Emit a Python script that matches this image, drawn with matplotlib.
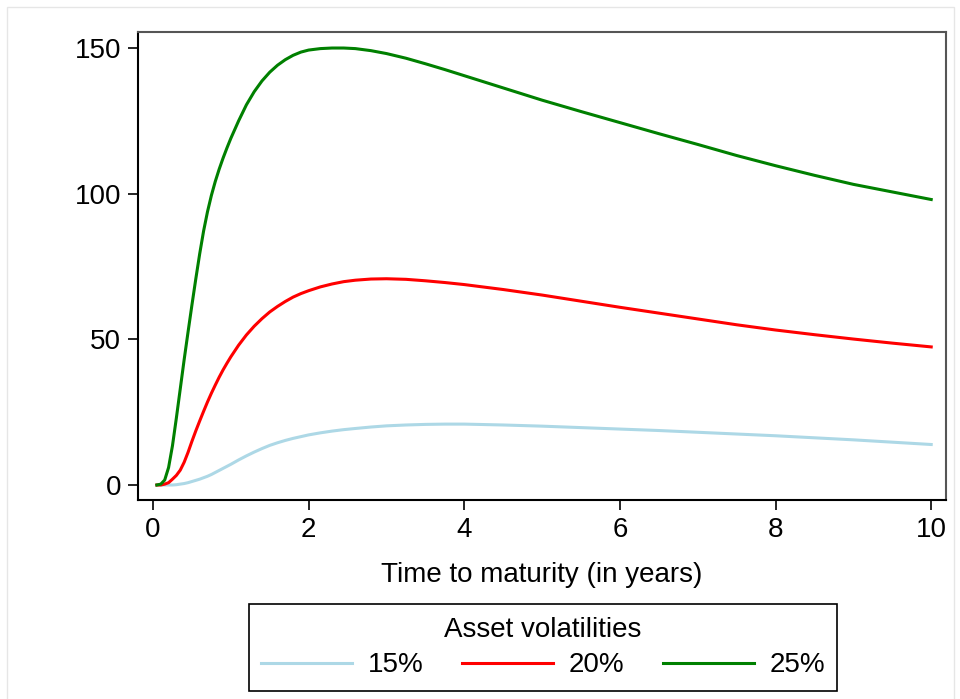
import matplotlib
matplotlib.use('Agg')
import matplotlib.pyplot as plt
from matplotlib.patches import Rectangle

plt.rcParams['font.family'] = ['Liberation Sans', 'DejaVu Sans']

# Time to maturity (years)
t = [0.05, 0.1, 0.15, 0.2, 0.25, 0.3, 0.35, 0.4, 0.45, 0.5, 0.55, 0.6, 0.65,
     0.7, 0.75, 0.8, 0.85, 0.9, 0.95, 1.0, 1.1, 1.2, 1.3, 1.4, 1.5, 1.6, 1.7,
     1.8, 1.9, 2.0, 2.15, 2.3, 2.45, 2.6, 2.8, 3.0, 3.25, 3.5, 3.75, 4.0,
     4.5, 5.0, 5.5, 6.0, 6.5, 7.0, 7.5, 8.0, 8.5, 9.0, 9.5, 10.0]

# values for each asset volatility
vol15 = [0, 0, 0, 0, 0, 0.1, 0.3, 0.5, 0.8, 1.2, 1.6, 2.0, 2.5,
         3.0, 3.6, 4.3, 5.0, 5.7, 6.4, 7.1, 8.6, 10.0, 11.3, 12.5, 13.6, 14.5, 15.3,
         16.0, 16.6, 17.2, 17.9, 18.5, 19.0, 19.4, 19.9, 20.3, 20.6, 20.8, 20.9, 20.9,
         20.6, 20.2, 19.7, 19.2, 18.7, 18.1, 17.5, 16.9, 16.2, 15.5, 14.7, 13.9]
vol20 = [0, 0, 0.3, 0.8, 2.0, 3.3, 5.1, 7.8, 11.2, 15.0, 18.6, 22.0, 25.3,
         28.5, 31.5, 34.3, 37.0, 39.5, 41.8, 44.0, 48.0, 51.5, 54.5, 57.1, 59.4, 61.3, 63.0,
         64.5, 65.7, 66.7, 68.0, 69.0, 69.8, 70.3, 70.7, 70.8, 70.6, 70.1, 69.5, 68.8,
         67.1, 65.2, 63.1, 61.0, 59.0, 57.0, 55.0, 53.2, 51.6, 50.1, 48.7, 47.4]
vol25 = [0, 0.3, 1.7, 6.0, 13.5, 23.0, 33.0, 43.0, 52.5, 61.8, 70.8, 79.4, 87.2,
         93.8, 99.4, 104.2, 108.4, 112.2, 115.7, 119.0, 125.0, 130.5, 135.0, 138.7, 141.7, 144.1, 146.0,
         147.5, 148.6, 149.3, 149.8, 150.0, 150.0, 149.8, 149.1, 148.1, 146.5, 144.6, 142.6, 140.5,
         136.3, 132.1, 128.2, 124.4, 120.6, 116.9, 113.1, 109.6, 106.3, 103.2, 100.6, 98.0]

labels = ['15%', '20%', '25%']
colors = ['#add8e6', '#ff0000', '#008000']

fig = plt.figure(figsize=(9.6, 6.99), dpi=100)
ax = fig.add_axes([138 / 960, 1 - 500 / 699, 808 / 960, 468 / 699])

for vals, lab, col in zip([vol15, vol20, vol25], labels, colors):
    ax.plot(t, vals, color=col, lw=2.2, label=lab)

ax.set_xlim(-0.193, 10.19)
ax.set_ylim(-5.15, 155.5)
ax.set_xticks([0, 2, 4, 6, 8, 10])
ax.set_yticks([0, 50, 100, 150])
ax.tick_params(labelsize=20, length=7.2, width=1.2, pad=5)
ax.set_xlabel('Time to maturity (in years)', fontsize=20, labelpad=14)

for s in ['left', 'bottom']:
    ax.spines[s].set_color('black')
    ax.spines[s].set_linewidth(1.5)
for s in ['top', 'right']:
    ax.spines[s].set_color('#555555')
    ax.spines[s].set_linewidth(1.5)

leg = fig.legend(loc='center', bbox_to_anchor=(543 / 960, 1 - 647.5 / 699),
                 ncol=3, fontsize=20, title='Asset volatilities',
                 title_fontsize=20, handlelength=3.28, handletextpad=0.55,
                 columnspacing=1.4, borderpad=0.45, labelspacing=0.35,
                 fancybox=False, edgecolor='black', framealpha=1)
leg.get_frame().set_linewidth(1.2)

# light outer frame
fig.patches.append(Rectangle((7.4 / 960, -0.1), 947 / 960, 1.1 - 7.3 / 699,
                             transform=fig.transFigure, fill=False,
                             edgecolor='#e6e6e6', lw=1))

fig.savefig('out.png', dpi=100)
